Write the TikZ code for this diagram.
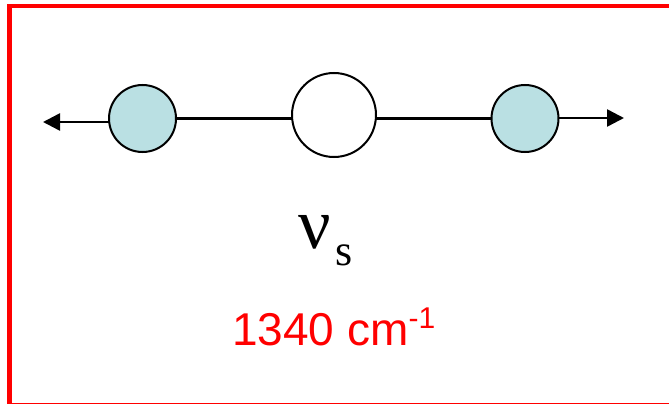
\documentclass[tikz,border=0pt]{standalone}
\usepackage{fontspec}
\setmainfont{Liberation Serif}
\newfontfamily\labelfont{Liberation Sans}
\usetikzlibrary{arrows.meta}
\definecolor{atomblue}{RGB}{186,224,227}
\tikzset{
    atom/.style = {circle, draw = black, line width = 2pt, inner sep = 0pt, outer sep = 0pt},
    bond/.style = {black, line width = 3pt},
    motion/.style = {black, line width = 2.5pt, -{Triangle[length = 17pt, width = 17pt]}}
}

\begin{document}
\begin{tikzpicture}[x = 1pt, y = -1pt]
            \useasboundingbox (0, 0) rectangle (669, 404);
            \clip (0, 0) rectangle (669, 404);
            \fill[white](0, 0) rectangle (669, 404);
            
            \draw[red, line width = 4.5pt](669, 6) -- (9.5, 6) -- (9.5, 404);
            \draw[red, line width = 0.8pt](9.5, 403) -- (669, 403);
            
            \node[atom, fill = atomblue, minimum size = 67pt] (leftatom) at (142.5, 118.5) {};
            \node[atom, fill = white, minimum size = 84pt] (midatom) at (334, 115) {};
            \node[atom, fill = atomblue, minimum size = 67pt] (rightatom) at (525, 118.5) {};
            
            \coordinate (lefttip) at (43, 122);
            \coordinate (righttip) at (624, 118);
            
            \draw[bond](leftatom.east) -- (leftatom.east -| midatom.west);
            \draw[bond](rightatom.west) -- (rightatom.west -| midatom.east);
            \draw[motion](leftatom.west |- lefttip) -- (lefttip);
            \draw[motion](rightatom.east |- righttip) -- (righttip);
            
            \node[anchor = base west, inner sep = 0pt] (modename) at (298, 248) {\fontsize{72}{72}\selectfont ν\hspace{5pt}\raisebox{-17pt}{\fontsize{44}{44}\selectfont s}};
            \node[anchor = base west, inner sep = 0pt, text = red] (wavenumber) at (232, 345) {\labelfont\fontsize{46}{46}\selectfont 1340 cm\raisebox{17pt}{\fontsize{30}{30}\selectfont -1}};
        \end{tikzpicture}
\end{document}
